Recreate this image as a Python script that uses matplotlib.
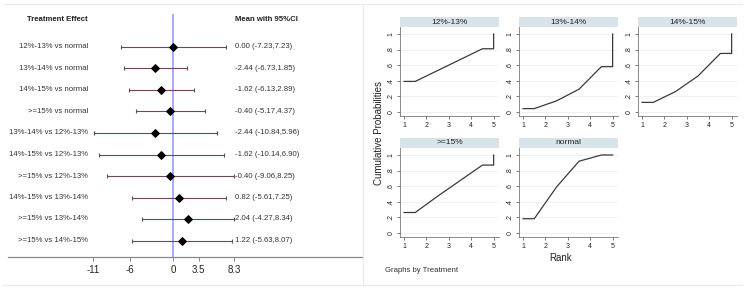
import numpy as np
import matplotlib
matplotlib.use('Agg')
import matplotlib.pyplot as plt
from matplotlib.lines import Line2D

plt.rcParams['font.family'] = ['Liberation Sans', 'DejaVu Sans']

# forest plot data
comparisons = ['12%-13% vs normal', '13%-14% vs normal', '14%-15% vs normal',
               '>=15% vs normal', '13%-14% vs 12%-13%', '14%-15% vs 12%-13%',
               '>=15% vs 12%-13%', '14%-15% vs 13%-14%', '>=15% vs 13%-14%',
               '>=15% vs 14%-15%']
means = [0.00, -2.44, -1.62, -0.40, -2.44, -1.62, -0.40, 0.82, 2.04, 1.22]
lower = [-7.23, -6.73, -6.13, -5.17, -10.84, -10.14, -9.06, -5.61, -4.27, -5.63]
upper = [7.23, 1.85, 2.89, 4.37, 5.96, 6.90, 8.25, 7.25, 8.34, 8.07]
forest_ticks = [-11, -6, 0, 3.5, 8.3]
forest_ticklabels = ['-11', '-6', '0', '3.5', '8.3']

# cumulative rank probabilities (SUCRA curves)
treatments = ['12%-13%', '13%-14%', '14%-15%', '>=15%', 'normal']
rank_x = [1, 1.5, 2.5, 3.5, 4.5, 5, 5]
cum_prob = {
    '12%-13%': [0.39, 0.39, 0.53, 0.67, 0.81, 0.81, 1.0],
    '13%-14%': [0.04, 0.04, 0.14, 0.29, 0.58, 0.58, 1.0],
    '14%-15%': [0.12, 0.12, 0.26, 0.46, 0.75, 0.75, 1.0],
    '>=15%':   [0.26, 0.26, 0.47, 0.67, 0.87, 0.87, 1.0],
    'normal':  [0.18, 0.18, 0.59, 0.92, 1.0, 1.0, 1.0],
}

W, H = 747, 290


def px(x0, y0, w, h):
    return [x0 / W, 1 - (y0 + h) / H, w / W, h / H]


fig = plt.figure(figsize=(W / 100, H / 100), dpi=100)

# ---- forest plot ----
ax = fig.add_axes(px(8, 14, 354, 243))
scale = 7.3
zero_px = 173.3
ax.set_xlim((8 - zero_px) / scale, (362 - zero_px) / scale)
ax.set_ylim((257 - 47) / 21.5, (14 - 47) / 21.5)
rows = np.arange(len(comparisons))
ax.axvline(0, color='#9a9aff', lw=1.2, zorder=1)
ax.errorbar(means, rows, xerr=[np.array(means) - np.array(lower), np.array(upper) - np.array(means)],
            fmt='none', ecolor='#6a4a50', elinewidth=0.8, capsize=1.5, capthick=0.8, zorder=2)
ax.scatter(means, rows, marker='D', s=14, color='black', zorder=3)

lab_x = (88 - zero_px) / scale
val_x = (235 - zero_px) / scale
for i, name in enumerate(comparisons):
    ax.text(lab_x, i, name, ha='right', va='center', fontsize=5.6, color='#333333')
    ax.text(val_x, i, '%.2f (%.2f,%.2f)' % (means[i], lower[i], upper[i]),
            ha='left', va='center', fontsize=5.6, color='#333333')
head_y = (20 - 47) / 21.5
ax.text(lab_x, head_y, 'Treatment Effect', ha='right', va='center', fontsize=5.6, fontweight='bold', color='#222222')
ax.text(val_x, head_y, 'Mean with 95%CI', ha='left', va='center', fontsize=5.6, fontweight='bold', color='#222222')

for s in ['top', 'right', 'left']:
    ax.spines[s].set_visible(False)
ax.spines['bottom'].set_color('#888888')
ax.spines['bottom'].set_linewidth(0.9)
ax.set_yticks([])
ax.set_xticks(forest_ticks)
ax.set_xticklabels(forest_ticklabels, fontsize=7, color='#222222')
ax.tick_params(axis='x', length=3, width=0.7, color='#888888', pad=3)
ax.patch.set_alpha(0)

# ---- cumulative rank plots ----
col_left = [400, 519, 638]
row_top = [27, 148]
pw, ph = 99, 89
yticks = [0, 0.2, 0.4, 0.6, 0.8, 1]
ytlabels = ['0', '.2', '.4', '.6', '.8', '1']

for k, t in enumerate(treatments):
    r, c = divmod(k, 3)
    x0, y0 = col_left[c], row_top[r]
    sax = fig.add_axes(px(x0, y0 - 10, pw, 10))
    sax.set_facecolor('#d8e3ea')
    sax.set_xticks([])
    sax.set_yticks([])
    for s in sax.spines.values():
        s.set_visible(False)
    sax.text(0.5, 0.5, t, ha='center', va='center', fontsize=6, color='#222222', transform=sax.transAxes)

    pax = fig.add_axes(px(x0, y0, pw, ph))
    pax.plot(rank_x, cum_prob[t], color='#3a3a3a', lw=0.9)
    pax.set_xlim(0.82, 5.24)
    pax.set_ylim(-0.055, 1.09)
    pax.set_xticks([1, 2, 3, 4, 5])
    pax.set_yticks(yticks)
    pax.set_yticklabels(ytlabels, rotation=90, va='center')
    pax.tick_params(labelsize=5, length=2.5, width=0.6, color='#666666', pad=1.5, labelcolor='#222222')
    pax.grid(axis='y', color='#eaf1f3', lw=0.6)
    pax.set_axisbelow(True)
    for s in ['top', 'right']:
        pax.spines[s].set_visible(False)
    for s in ['left', 'bottom']:
        pax.spines[s].set_color('#777777')
        pax.spines[s].set_linewidth(0.6)

fig.text(561 / W, 1 - 258 / H, 'Rank', ha='center', va='center', fontsize=7, color='#222222')
fig.text(379 / W, 1 - 133 / H, 'Cumulative Probabilities', ha='center', va='center',
         rotation=90, fontsize=7, color='#222222')
fig.text(385 / W, 1 - 270 / H, 'Graphs by Treatment', ha='left', va='center', fontsize=5.6, color='#333333')

# faint frame lines
border = '#e4ecef'
fig.add_artist(Line2D([3 / W, 742 / W], [1 - 4 / H, 1 - 4 / H], color=border, lw=0.8))
fig.add_artist(Line2D([3 / W, 742 / W], [1 - 285 / H, 1 - 285 / H], color=border, lw=0.8))
fig.add_artist(Line2D([363 / W, 363 / W], [1 - 4 / H, 1 - 285 / H], color=border, lw=0.8))

fig.savefig('out.png', dpi=100)
